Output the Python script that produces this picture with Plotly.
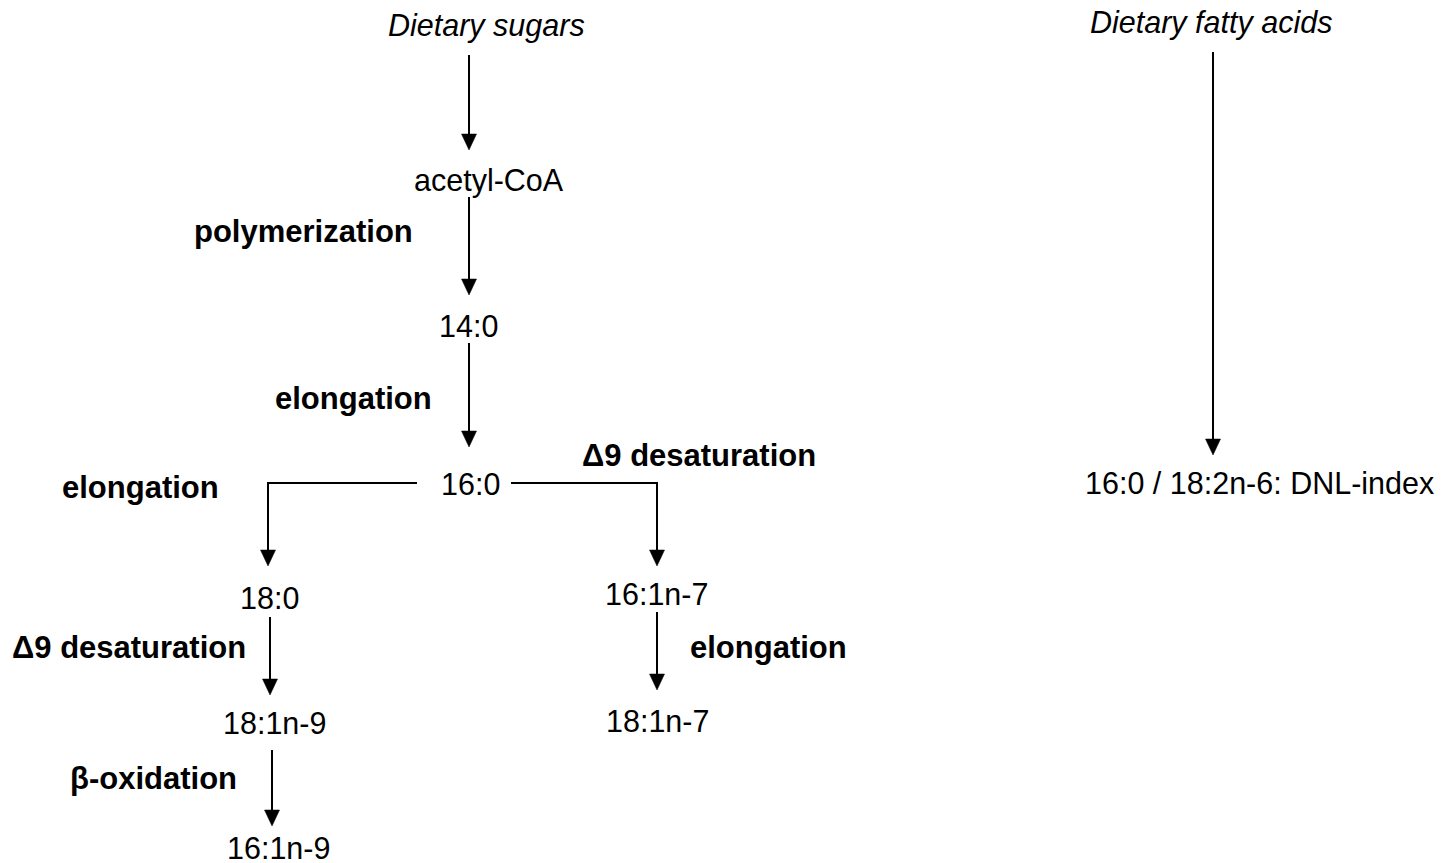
import plotly.graph_objects as go

# ---- node labels (text, x-centre, y-centre, style) ----
node_text = ["Dietary sugars", "acetyl-CoA", "14:0", "16:0", "18:0", "16:1n-7",
             "18:1n-9", "18:1n-7", "16:1n-9", "Dietary fatty acids",
             "16:0 / 18:2n-6: DNL-index"]
node_x = [486, 489, 468, 470, 269, 656, 274, 657, 278, 1211, 1259]
node_y = [25, 180, 326, 484, 598, 594, 723, 721, 848, 22, 483]
node_italic = [True, False, False, False, False, False, False, False, False, True, False]

# ---- process labels (bold) ----
proc_text = ["polymerization", "elongation", "\u03949 desaturation", "elongation",
             "\u03949 desaturation", "elongation", "\u03b2-oxidation"]
proc_x = [303, 353, 699, 140, 129, 768, 153]
proc_y = [231, 398, 455, 487, 647, 647, 778]

# ---- arrows: polylines, last point is arrow tip ----
arrow_x = [[469, 469], [469, 469], [469, 469], [417, 268, 268], [511, 657, 657],
           [270, 270], [272, 272], [657, 657], [1213, 1213]]
arrow_y = [[55, 150], [197, 295], [343, 447], [483, 483, 566], [483, 483, 566],
           [617, 695], [750, 826], [612, 690], [52, 455]]

FONT = "Arial, Liberation Sans, sans-serif"
HEAD_W = 15
HEAD_H = 16

fig = go.Figure()

for xs, ys in zip(arrow_x, arrow_y):
    tx, ty = xs[-1], ys[-1]
    lx = list(xs)
    ly = list(ys[:-1]) + [ty - HEAD_H + 2]
    fig.add_trace(go.Scatter(x=lx, y=ly, mode="lines",
                             line=dict(color="black", width=2),
                             hoverinfo="skip", showlegend=False))
    fig.add_trace(go.Scatter(x=[tx - HEAD_W / 2, tx + HEAD_W / 2, tx, tx - HEAD_W / 2],
                             y=[ty - HEAD_H, ty - HEAD_H, ty, ty - HEAD_H],
                             mode="lines", fill="toself", fillcolor="black",
                             line=dict(color="black", width=0.5),
                             hoverinfo="skip", showlegend=False))

annotations = []
for t, x, y, it in zip(node_text, node_x, node_y, node_italic):
    annotations.append(dict(x=x, y=y, xref="x", yref="y", text=(f"<i>{t}</i>" if it else t),
                            showarrow=False, xanchor="center", yanchor="middle",
                            font=dict(family=FONT, size=30.5, color="black")))
for t, x, y in zip(proc_text, proc_x, proc_y):
    annotations.append(dict(x=x, y=y, xref="x", yref="y", text=f"<b>{t}</b>",
                            showarrow=False, xanchor="center", yanchor="middle",
                            font=dict(family=FONT, size=31, color="black")))

fig.update_layout(
    width=1450, height=863,
    margin=dict(l=0, r=0, t=0, b=0),
    paper_bgcolor="white", plot_bgcolor="white",
    xaxis=dict(range=[0, 1450], visible=False, fixedrange=True),
    yaxis=dict(range=[863, 0], visible=False, fixedrange=True),
    annotations=annotations,
    showlegend=False,
)

fig.write_html("out.html", config={"displayModeBar": False},
               post_script="document.body.style.margin='0';document.body.style.overflow='hidden';")
